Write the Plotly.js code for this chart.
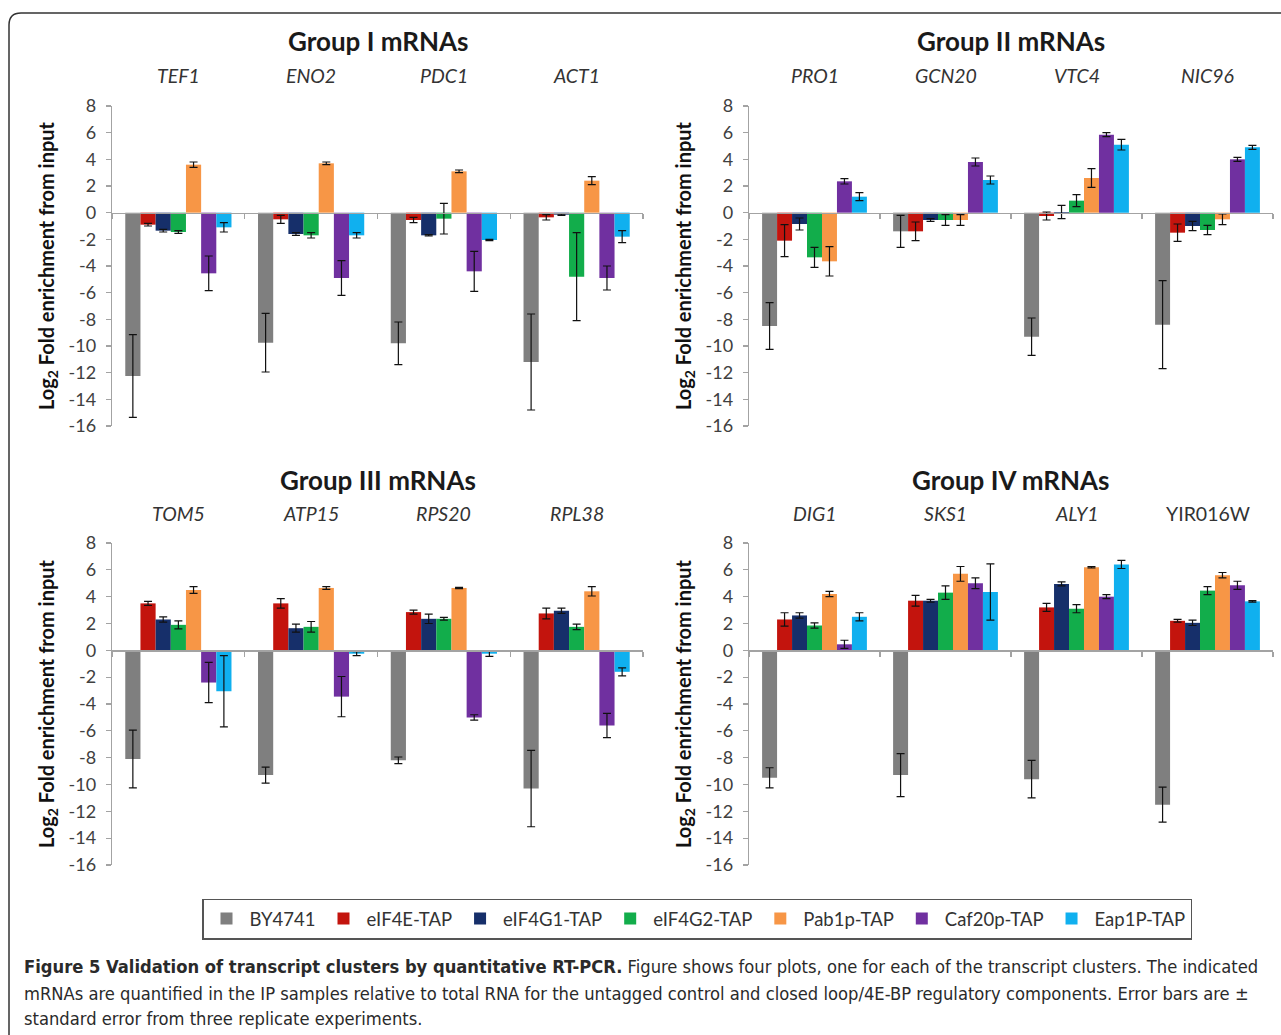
<!DOCTYPE html>
<html>
<head>
<meta charset="utf-8">
<script src="https://cdn.plot.ly/plotly-3.0.1.min.js"></script>
<style>
  html, body { margin: 0; padding: 0; background: #fff; }
  #chart { width: 1281px; height: 1035px; }
</style>
</head>
<body>
<div id="chart"></div>
<script>
// ---------------- DATA ----------------
const seriesNames = ['BY4741', 'eIF4E-TAP', 'eIF4G1-TAP', 'eIF4G2-TAP', 'Pab1p-TAP', 'Caf20p-TAP', 'Eap1P-TAP'];
const seriesColors = ['#7f7f7f', '#c3140d', '#162f6a', '#12ad4b', '#f79646', '#7030a0', '#10b0ef'];

const groupTitles = ['Group I mRNAs', 'Group II mRNAs', 'Group III mRNAs', 'Group IV mRNAs'];

const genesI   = ['TEF1', 'ENO2', 'PDC1', 'ACT1'];
const genesII  = ['PRO1', 'GCN20', 'VTC4', 'NIC96'];
const genesIII = ['TOM5', 'ATP15', 'RPS20', 'RPL38'];
const genesIV  = ['DIG1', 'SKS1', 'ALY1', 'YIR016W'];
const italicGenes = ['TEF1','ENO2','PDC1','ACT1','PRO1','GCN20','VTC4','NIC96','TOM5','ATP15','RPS20','RPL38','DIG1','SKS1','ALY1'];

// rows = series (same order as seriesNames), columns = genes
const valuesI = [
  [-12.25, -9.75, -9.8, -11.2],
  [-0.9, -0.5, -0.55, -0.35],
  [-1.35, -1.6, -1.7, -0.15],
  [-1.45, -1.7, -0.45, -4.8],
  [3.6, 3.7, 3.1, 2.4],
  [-4.55, -4.9, -4.4, -4.9],
  [-1.1, -1.7, -2.05, -1.8]
];
const errorsI = [
  [3.1, 2.2, 1.6, 3.6],
  [0.1, 0.3, 0.2, 0.2],
  [0.1, 0.1, 0.05, 0.05],
  [0.1, 0.2, 1.15, 3.3],
  [0.2, 0.1, 0.1, 0.3],
  [1.3, 1.3, 1.5, 0.9],
  [0.35, 0.2, 0.05, 0.45]
];

const valuesII = [
  [-8.5, -1.4, -9.3, -8.4],
  [-2.1, -1.4, -0.25, -1.5],
  [-0.85, -0.55, 0.05, -1.0],
  [-3.35, -0.55, 0.9, -1.3],
  [-3.65, -0.55, 2.6, -0.5],
  [2.35, 3.8, 5.85, 4.0],
  [1.2, 2.45, 5.1, 4.9]
];
const errorsII = [
  [1.75, 1.2, 1.4, 3.3],
  [1.2, 0.7, 0.3, 0.65],
  [0.45, 0.1, 0.5, 0.35],
  [0.75, 0.4, 0.45, 0.35],
  [1.1, 0.4, 0.7, 0.4],
  [0.2, 0.3, 0.15, 0.15],
  [0.3, 0.3, 0.4, 0.15]
];

const valuesIII = [
  [-8.1, -9.3, -8.2, -10.3],
  [3.5, 3.5, 2.85, 2.75],
  [2.3, 1.65, 2.35, 2.95],
  [1.9, 1.75, 2.35, 1.75],
  [4.5, 4.65, 4.65, 4.4],
  [-2.4, -3.45, -5.0, -5.6],
  [-3.05, -0.25, -0.25, -1.6]
];
const errorsIII = [
  [2.15, 0.6, 0.25, 2.85],
  [0.15, 0.35, 0.15, 0.4],
  [0.2, 0.3, 0.35, 0.2],
  [0.3, 0.4, 0.1, 0.2],
  [0.25, 0.1, 0.05, 0.35],
  [1.5, 1.5, 0.2, 0.9],
  [2.65, 0.15, 0.2, 0.3]
];

const valuesIV = [
  [-9.5, -9.3, -9.6, -11.5],
  [2.3, 3.7, 3.2, 2.2],
  [2.6, 3.7, 4.95, 2.05],
  [1.85, 4.3, 3.1, 4.45],
  [4.2, 5.7, 6.2, 5.6],
  [0.45, 5.0, 4.0, 4.85],
  [2.5, 4.35, 6.4, 3.65]
];
const errorsIV = [
  [0.75, 1.6, 1.4, 1.3],
  [0.5, 0.4, 0.3, 0.1],
  [0.2, 0.1, 0.15, 0.2],
  [0.2, 0.5, 0.3, 0.3],
  [0.2, 0.55, 0.05, 0.2],
  [0.3, 0.4, 0.15, 0.3],
  [0.3, 2.1, 0.3, 0.05]
];

const yTickVals = [8, 6, 4, 2, 0, -2, -4, -6, -8, -10, -12, -14, -16];
const yTickText = ['8', '6', '4', '2', '0', '-2', '-4', '-6', '-8', '-10', '-12', '-14', '-16'];
const yRange = [-16, 8];
const yAxisTitle = 'Log<sub>2</sub> Fold enrichment from input';

const captionLines = [
  '<b>Figure 5 Validation of transcript clusters by quantitative RT-PCR.</b> Figure shows four plots, one for each of the transcript clusters. The indicated',
  'mRNAs are quantified in the IP samples relative to total RNA for the untagged control and closed loop/4E-BP regulatory components. Error bars are ±',
  'standard error from three replicate experiments.'
];

// ---------------- LAYOUT GEOMETRY ----------------
const W = 1281, H = 1035;
const px = v => v / W;
const py = v => 1 - v / H;

const panels = [
  { genes: genesI,   vals: valuesI,   errs: errorsI,   xd: [px(112), px(643)],  yd: [py(426), py(106)], titleY: 41,  geneY: 76 },
  { genes: genesII,  vals: valuesII,  errs: errorsII,  xd: [px(749), px(1273)], yd: [py(426), py(106)], titleY: 41,  geneY: 76 },
  { genes: genesIII, vals: valuesIII, errs: errorsIII, xd: [px(112), px(643)],  yd: [py(865), py(543)], titleY: 480, geneY: 513 },
  { genes: genesIV,  vals: valuesIV,  errs: errorsIV,  xd: [px(749), px(1273)], yd: [py(865), py(543)], titleY: 480, geneY: 513 }
];

const FONT = 'Lato, "Open Sans", sans-serif';
const AXIS_COLOR = '#a3a3a3';

const traces = [];
const layout = {
  width: W, height: H,
  margin: { l: 0, r: 0, t: 0, b: 0 },
  paper_bgcolor: '#ffffff',
  plot_bgcolor: 'rgba(0,0,0,0)',
  barmode: 'group',
  bargap: 0.2,
  bargroupgap: 0,
  font: { family: FONT, color: '#333' },
  showlegend: true,
  legend: {
    orientation: 'h',
    x: px(697), xanchor: 'center',
    y: py(919), yanchor: 'middle',
    bordercolor: '#555',
    borderwidth: 1.5,
    bgcolor: '#fff',
    font: { family: FONT, size: 18.5, color: '#333' },
    traceorder: 'normal',
    itemwidth: 36
  },
  annotations: [],
  shapes: []
};

panels.forEach((p, i) => {
  const n = i === 0 ? '' : String(i + 1);
  const xa = 'x' + n, ya = 'y' + n;
  seriesNames.forEach((name, s) => {
    traces.push({
      type: 'bar',
      name: name,
      x: p.genes,
      y: p.vals[s],
      xaxis: xa, yaxis: ya,
      marker: { color: seriesColors[s], line: { width: 0 } },
      error_y: { type: 'data', array: p.errs[s], visible: true, color: '#111', thickness: 1.2, width: 4 },
      legendgroup: name,
      showlegend: i === 0,
      hoverinfo: 'x+y+name'
    });
  });
  const zeroPos = p.yd[0] + (0 - yRange[0]) / (yRange[1] - yRange[0]) * (p.yd[1] - p.yd[0]);
  layout['xaxis' + n] = {
    domain: p.xd,
    anchor: 'free',
    position: zeroPos,
    type: 'category',
    categoryorder: 'array',
    categoryarray: p.genes,
    showline: true, linecolor: AXIS_COLOR, linewidth: 1.3,
    ticks: 'outside', tickson: 'boundaries', ticklen: 5, tickcolor: AXIS_COLOR, tickwidth: 1.3,
    showticklabels: false,
    showgrid: false, zeroline: false,
    fixedrange: true
  };
  layout['yaxis' + n] = {
    domain: p.yd,
    anchor: xa,
    range: yRange,
    tickvals: yTickVals,
    ticktext: yTickText,
    ticks: 'outside', ticklen: 5, tickcolor: AXIS_COLOR, tickwidth: 1.3,
    ticklabelstandoff: 6,
    showline: true, linecolor: AXIS_COLOR, linewidth: 1.3,
    showgrid: false, zeroline: false,
    tickfont: { family: FONT, size: 18, color: '#404040' },
    title: { text: '<b>' + yAxisTitle + '</b>', font: { family: FONT, size: 20, color: '#111' }, standoff: 8 },
    fixedrange: true
  };
  // group title
  layout.annotations.push({
    xref: 'paper', yref: 'paper',
    x: (p.xd[0] + p.xd[1]) / 2, y: py(p.titleY),
    xanchor: 'center', yanchor: 'middle',
    text: '<b>' + groupTitles[i] + '</b>',
    showarrow: false,
    font: { family: FONT, size: 26, color: '#1a1a1a' }
  });
  // gene labels
  p.genes.forEach(g => {
    layout.annotations.push({
      xref: xa, yref: 'paper',
      x: g, y: py(p.geneY),
      xanchor: 'center', yanchor: 'middle',
      text: italicGenes.includes(g) ? '<i>' + g + '</i>' : g,
      showarrow: false,
      font: { family: FONT, size: 19.5, color: '#333' }
    });
  });
});

// caption
const capY = [966, 993, 1018];
captionLines.forEach((t, k) => {
  layout.annotations.push({
    xref: 'paper', yref: 'paper',
    x: px(22), y: py(capY[k]),
    xanchor: 'left', yanchor: 'middle',
    text: t,
    showarrow: false,
    font: { family: '"Liberation Sans Narrow", "DejaVu Sans Condensed", sans-serif', size: 18.2, color: '#2a2a2a' }
  });
});

// outer rounded border
layout.shapes.push({
  type: 'path', xref: 'paper', yref: 'paper',
  path: `M 1.01,${py(13)} L ${px(21)},${py(13)} Q ${px(9)},${py(13)} ${px(9)},${py(25)} L ${px(9)},-0.01`,
  line: { color: '#333', width: 1.5 }
});

Plotly.newPlot('chart', traces, layout, { displayModeBar: false, staticPlot: true });
</script>
</body>
</html>
